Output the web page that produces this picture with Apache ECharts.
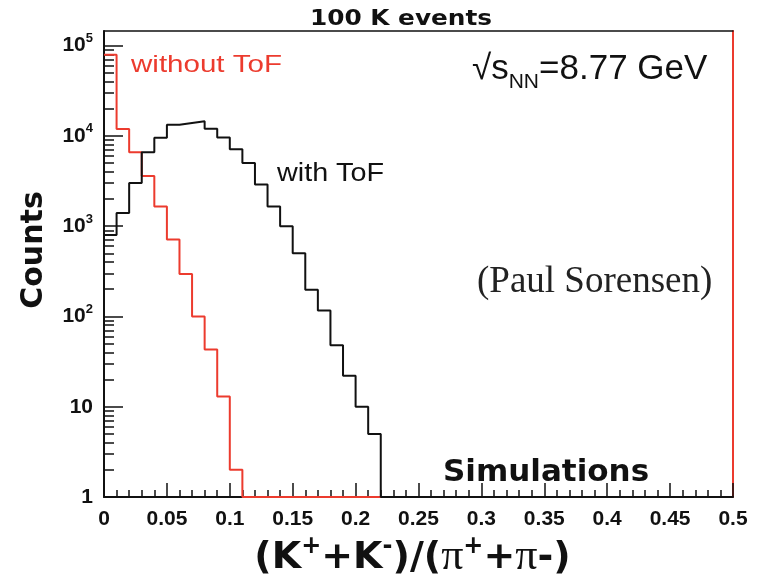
<!DOCTYPE html>
<html>
<head>
<meta charset="utf-8">
<script src="https://cdn.jsdelivr.net/npm/echarts@6/dist/echarts.min.js"></script>
<style>
  html, body { margin: 0; padding: 0; background: #ffffff; }
  #chart { width: 767px; height: 579px; }
</style>
</head>
<body>
<div id="chart"></div>
<script>
// Bin edges of the ratio histogram (width 0.01)
const binEdges = [0, 0.01, 0.02, 0.03, 0.04, 0.05, 0.06, 0.07, 0.08, 0.09, 0.10,
                  0.11, 0.12, 0.13, 0.14, 0.15, 0.16, 0.17, 0.18, 0.19, 0.20, 0.21, 0.22];

// Counts per bin, with time-of-flight identification
const withTof = [800, 1400, 3000, 6600, 9500, 13300, 13900, 14500, 12000, 9600, 7100,
                 5000, 2900, 1650, 1000, 500, 197, 116, 48, 22, 10, 5];

// Counts per bin, without time-of-flight identification
const withoutTof = [79000, 11900, 6600, 3600, 1650, 710, 296, 100, 43, 13, 2];

// Axis tick labels
const xTickLabels = ['0', '0.05', '0.1', '0.15', '0.2', '0.25', '0.3', '0.35', '0.4', '0.45', '0.5'];
const yMajorTicks = [1, 10, 100, 1000, 10000, 100000];
const yTickLabels = ['1', '10', '10{sup|2}', '10{sup|3}', '10{sup|4}', '10{sup|5}'];

const X_MAX = 0.5;
const Y_MIN = 1;
const Y_MAX = 145000;

// Minor log ticks at 2..9 of each decade
const yMinorTicks = [];
for (let d = 1; d <= 10000; d *= 10) {
  for (let m = 2; m <= 9; m++) yMinorTicks.push(m * d);
}

// Step outline of a histogram; empty bins sit on the axis floor
function histOutline(vals) {
  const pts = vals.map((v, i) => [binEdges[i], v]);
  const n = vals.length;
  pts.push([binEdges[n], vals[n - 1]]);
  pts.push([binEdges[n], Y_MIN]);
  pts.push([X_MAX, Y_MIN]);
  return pts;
}

const RED = '#ec3b2e';
const INK = '#111111';

const chart = echarts.init(document.getElementById('chart'));

chart.setOption({
  animation: false,
  backgroundColor: '#ffffff',
  grid: { left: 104, right: 34, top: 31, bottom: 82, containLabel: false, outerBoundsMode: 'none' },
  xAxis: [
    {
      type: 'value',
      min: 0,
      max: X_MAX,
      interval: 0.05,
      position: 'bottom',
      axisLine: { show: true, onZero: false, lineStyle: { color: INK, width: 2 } },
      axisTick: { show: true, inside: true, length: 14, lineStyle: { color: INK, width: 1.5 } },
      minorTick: { show: true, splitNumber: 5, length: 7, lineStyle: { color: INK, width: 1.5 } },
      splitLine: { show: false },
      axisLabel: {
        margin: 12,
        color: INK,
        fontFamily: 'Liberation Sans',
        fontWeight: 'bold',
        fontSize: 21,
        formatter: (v, i) => xTickLabels[i]
      },
      name: '(K{sup|+}+K{sup|-})/({pi|π}{sup|+}+{pi|π}-)',
      nameLocation: 'middle',
      nameGap: 36,
      nameTextStyle: {
        color: INK,
        fontFamily: 'DejaVu Sans',
        fontWeight: 'bold',
        fontSize: 38,
        padding: [0, 12, 0, 0],
        rich: {
          sup: { fontFamily: 'DejaVu Sans', fontWeight: 'bold', fontSize: 24, padding: [0, 0, 22, 0], color: INK },
          pi: { fontFamily: 'Liberation Serif', fontWeight: 'normal', fontSize: 44, color: INK }
        }
      }
    },
    {
      type: 'value',
      min: 0,
      max: X_MAX,
      position: 'top',
      axisLine: { show: true, onZero: false, lineStyle: { color: INK, width: 1.5 } },
      axisTick: { show: false },
      axisLabel: { show: false },
      splitLine: { show: false }
    }
  ],
  yAxis: [
    {
      type: 'log',
      logBase: 10,
      min: Y_MIN,
      max: Y_MAX,
      position: 'left',
      axisLine: { show: true, onZero: false, lineStyle: { color: INK, width: 2 } },
      axisTick: { show: true, inside: true, length: 10, customValues: yMinorTicks, lineStyle: { color: INK, width: 1.5 } },
      splitLine: { show: false },
      axisLabel: {
        customValues: yMajorTicks,
        margin: 11,
        color: INK,
        fontFamily: 'Liberation Sans',
        fontWeight: 'bold',
        fontSize: 21,
        formatter: (v) => yTickLabels[yMajorTicks.indexOf(Math.round(v))] || '',
        rich: {
          sup: { fontFamily: 'Liberation Sans', fontWeight: 'bold', fontSize: 13, padding: [0, 0, 14, 0], color: INK }
        }
      },
      name: 'Counts',
      nameLocation: 'middle',
      nameRotate: 90,
      nameGap: 55,
      nameTextStyle: { color: INK, fontFamily: 'DejaVu Sans', fontWeight: 'bold', fontSize: 30, padding: [0, 0, 0, 28] }
    },
    {
      type: 'log',
      logBase: 10,
      min: Y_MIN,
      max: Y_MAX,
      position: 'left',
      axisLine: { show: false },
      axisTick: { show: true, inside: true, length: 19, customValues: yMajorTicks, lineStyle: { color: INK, width: 1.5 } },
      axisLabel: { show: false },
      splitLine: { show: false }
    },
    {
      type: 'log',
      logBase: 10,
      min: Y_MIN,
      max: Y_MAX,
      position: 'right',
      axisLine: { show: true, onZero: false, lineStyle: { color: RED, width: 2 } },
      axisTick: { show: false },
      axisLabel: { show: false },
      splitLine: { show: false }
    }
  ],
  series: [
    {
      name: 'without ToF',
      type: 'line',
      xAxisIndex: 0,
      yAxisIndex: 0,
      step: 'end',
      symbol: 'none',
      data: histOutline(withoutTof),
      lineStyle: { color: RED, width: 2 },
      z: 3
    },
    {
      name: 'with ToF',
      type: 'line',
      xAxisIndex: 0,
      yAxisIndex: 0,
      step: 'end',
      symbol: 'none',
      data: histOutline(withTof),
      lineStyle: { color: INK, width: 2 },
      z: 4
    }
  ],
  graphic: [
    {
      type: 'text', x: 401, y: 20, scaleX: 1.18,
      style: { text: '100 K events', font: 'bold 21px "DejaVu Sans"', fill: INK,
               textAlign: 'center', textVerticalAlign: 'middle', align: 'center', verticalAlign: 'middle' }
    },
    {
      type: 'text', x: 131, y: 65, scaleX: 1.23,
      style: { text: 'without ToF', font: '24px "Liberation Sans"', fill: RED,
               textAlign: 'left', textVerticalAlign: 'middle', align: 'left', verticalAlign: 'middle' }
    },
    {
      type: 'text', x: 472, y: 69,
      style: {
        text: '√s{sub|NN}=8.77 GeV', font: '35px "Liberation Sans"', fill: INK,
        textAlign: 'left', textVerticalAlign: 'middle', align: 'left', verticalAlign: 'middle',
        rich: { sub: { font: '21px "Liberation Sans"', fill: INK, padding: [27, 0, 0, 0] } }
      }
    },
    {
      type: 'text', x: 277, y: 174, scaleX: 1.15,
      style: { text: 'with ToF', font: '25px "Liberation Sans"', fill: INK,
               textAlign: 'left', textVerticalAlign: 'middle', align: 'left', verticalAlign: 'middle' }
    },
    {
      type: 'text', x: 477, y: 282,
      style: { text: '(Paul Sorensen)', font: '37px "Liberation Serif"', fill: '#222',
               textAlign: 'left', textVerticalAlign: 'middle', align: 'left', verticalAlign: 'middle' }
    },
    {
      type: 'text', x: 443, y: 473,
      style: { text: 'Simulations', font: 'bold 31px "DejaVu Sans"', fill: INK,
               textAlign: 'left', textVerticalAlign: 'middle', align: 'left', verticalAlign: 'middle' }
    }
  ]
});
</script>
</body>
</html>
